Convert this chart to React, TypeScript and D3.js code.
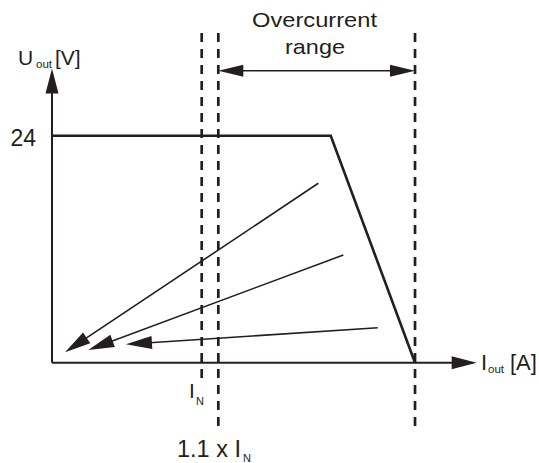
import React from "react";
import * as d3 from "d3";

// Output characteristic (current in units of I_N, voltage in V)
const limitCurrent = [0, 1.862, 2.425];
const limitVoltage = [24, 24, 0];

// Vertical dashed markers
const markerCurrent = [1.0, 1.111, 2.425];
const markerBottom = [-1.62, -7.0, -7.0];
const markerTop = 34.86;

// Fan arrows (start -> tip)
const fanFromI = [1.779, 1.946, 2.176];
const fanFromU = [18.97, 11.39, 3.7];
const fanToI = [0.087, 0.242, 0.494];
const fanToU = [1.1, 1.34, 1.95];

const yTicks = [24];
const overcurrentU = 30.87;

const W = 539;
const H = 463;
const INK = "#231f20";
const FONT = "'Liberation Sans', Arial, Helvetica, sans-serif";

const x = d3.scaleLinear().domain([0, 1]).range([52, 201.7]);
const y = d3.scaleLinear().domain([0, 24]).range([362.7, 135.7]);
const xMax = 2.837;
const yMax = 31.1;

function head(x1: number, y1: number, x2: number, y2: number, len: number, hw: number) {
  const dx = x2 - x1, dy = y2 - y1;
  const L = Math.hypot(dx, dy);
  const ux = dx / L, uy = dy / L;
  const bx = x2 - ux * len, by = y2 - uy * len;
  const px = -uy, py = ux;
  return `${x2},${y2} ${bx + px * hw},${by + py * hw} ${bx - px * hw},${by - py * hw}`;
}

export default function App() {
  const line = d3.line<number>().x((_, i) => x(limitCurrent[i])).y((_, i) => y(limitVoltage[i]));
  const x0 = x(0), y0 = y(0);
  const ocY = y(overcurrentU);
  const ocL = x(markerCurrent[1]);
  const ocR = x(markerCurrent[2]);
  return (
    <svg width={W} height={H} style={{ position: "absolute", left: 0, top: 0, background: "#fff" }} fontFamily={FONT}>
      {/* axes */}
      <line x1={x0} y1={y0} x2={x(xMax) - 20} y2={y0} stroke={INK} strokeWidth={2} />
      <polygon points={head(x0, y0, x(xMax), y0, 25, 6.5)} fill={INK} />
      <line x1={x0} y1={y0} x2={x0} y2={y(yMax) + 20} stroke={INK} strokeWidth={2} />
      <polygon points={head(x0, y0, x0, y(yMax), 25, 6.5)} fill={INK} />

      {/* dashed markers */}
      {markerCurrent.map((c, i) => (
        <line key={i} x1={x(c)} x2={x(c)} y1={y(markerTop)} y2={y(markerBottom[i])}
          stroke={INK} strokeWidth={2.7} strokeDasharray="9 7" />
      ))}

      {/* limit curve */}
      <path d={line(limitCurrent) || ""} fill="none" stroke={INK} strokeWidth={2.6} strokeLinejoin="miter" />

      {/* fan arrows */}
      {fanFromI.map((fi, i) => {
        const x1 = x(fi), y1 = y(fanFromU[i]);
        const x2 = x(fanToI[i]), y2 = y(fanToU[i]);
        const L = Math.hypot(x2 - x1, y2 - y1);
        const ex = x2 - ((x2 - x1) / L) * 20, ey = y2 - ((y2 - y1) / L) * 20;
        return (
          <g key={i}>
            <line x1={x1} y1={y1} x2={ex} y2={ey} stroke={INK} strokeWidth={1.6} />
            <polygon points={head(x1, y1, x2, y2, 26, 6.5)} fill={INK} />
          </g>
        );
      })}

      {/* overcurrent range arrow */}
      <line x1={ocL + 20} y1={ocY} x2={ocR - 20} y2={ocY} stroke={INK} strokeWidth={1.6} />
      <polygon points={head(ocR, ocY, ocL, ocY, 25, 6)} fill={INK} />
      <polygon points={head(ocL, ocY, ocR, ocY, 25, 6)} fill={INK} />

      {/* texts */}
      <text x={314.5} y={27} fontSize={21} textAnchor="middle" fill={INK} textLength={125} lengthAdjust="spacingAndGlyphs">Overcurrent</text>
      <text x={315} y={54} fontSize={21} textAnchor="middle" fill={INK} textLength={60} lengthAdjust="spacingAndGlyphs">range</text>

      {yTicks.map((t) => (
        <text key={t} x={36} y={y(t) + 10.5} fontSize={23} textAnchor="end" fill={INK}>{t}</text>
      ))}

      <text x={18} y={65} fontSize={21} fill={INK}>U</text>
      <text x={36} y={68} fontSize={11.5} fill={INK}>out</text>
      <text x={55} y={65} fontSize={21} fill={INK}>[V]</text>

      <text x={481} y={369.5} fontSize={22} fill={INK}>I</text>
      <text x={488} y={373} fontSize={11.5} fill={INK}>out</text>
      <text x={510} y={369.5} fontSize={22} fill={INK}>[A]</text>

      <text x={189} y={398} fontSize={21} fill={INK}>I</text>
      <text x={196} y={405} fontSize={11} fill={INK}>N</text>

      <text x={177} y={456.7} fontSize={23.5} fill={INK}>1.1 x I</text>
      <text x={243} y={462} fontSize={11} fill={INK}>N</text>
    </svg>
  );
}
